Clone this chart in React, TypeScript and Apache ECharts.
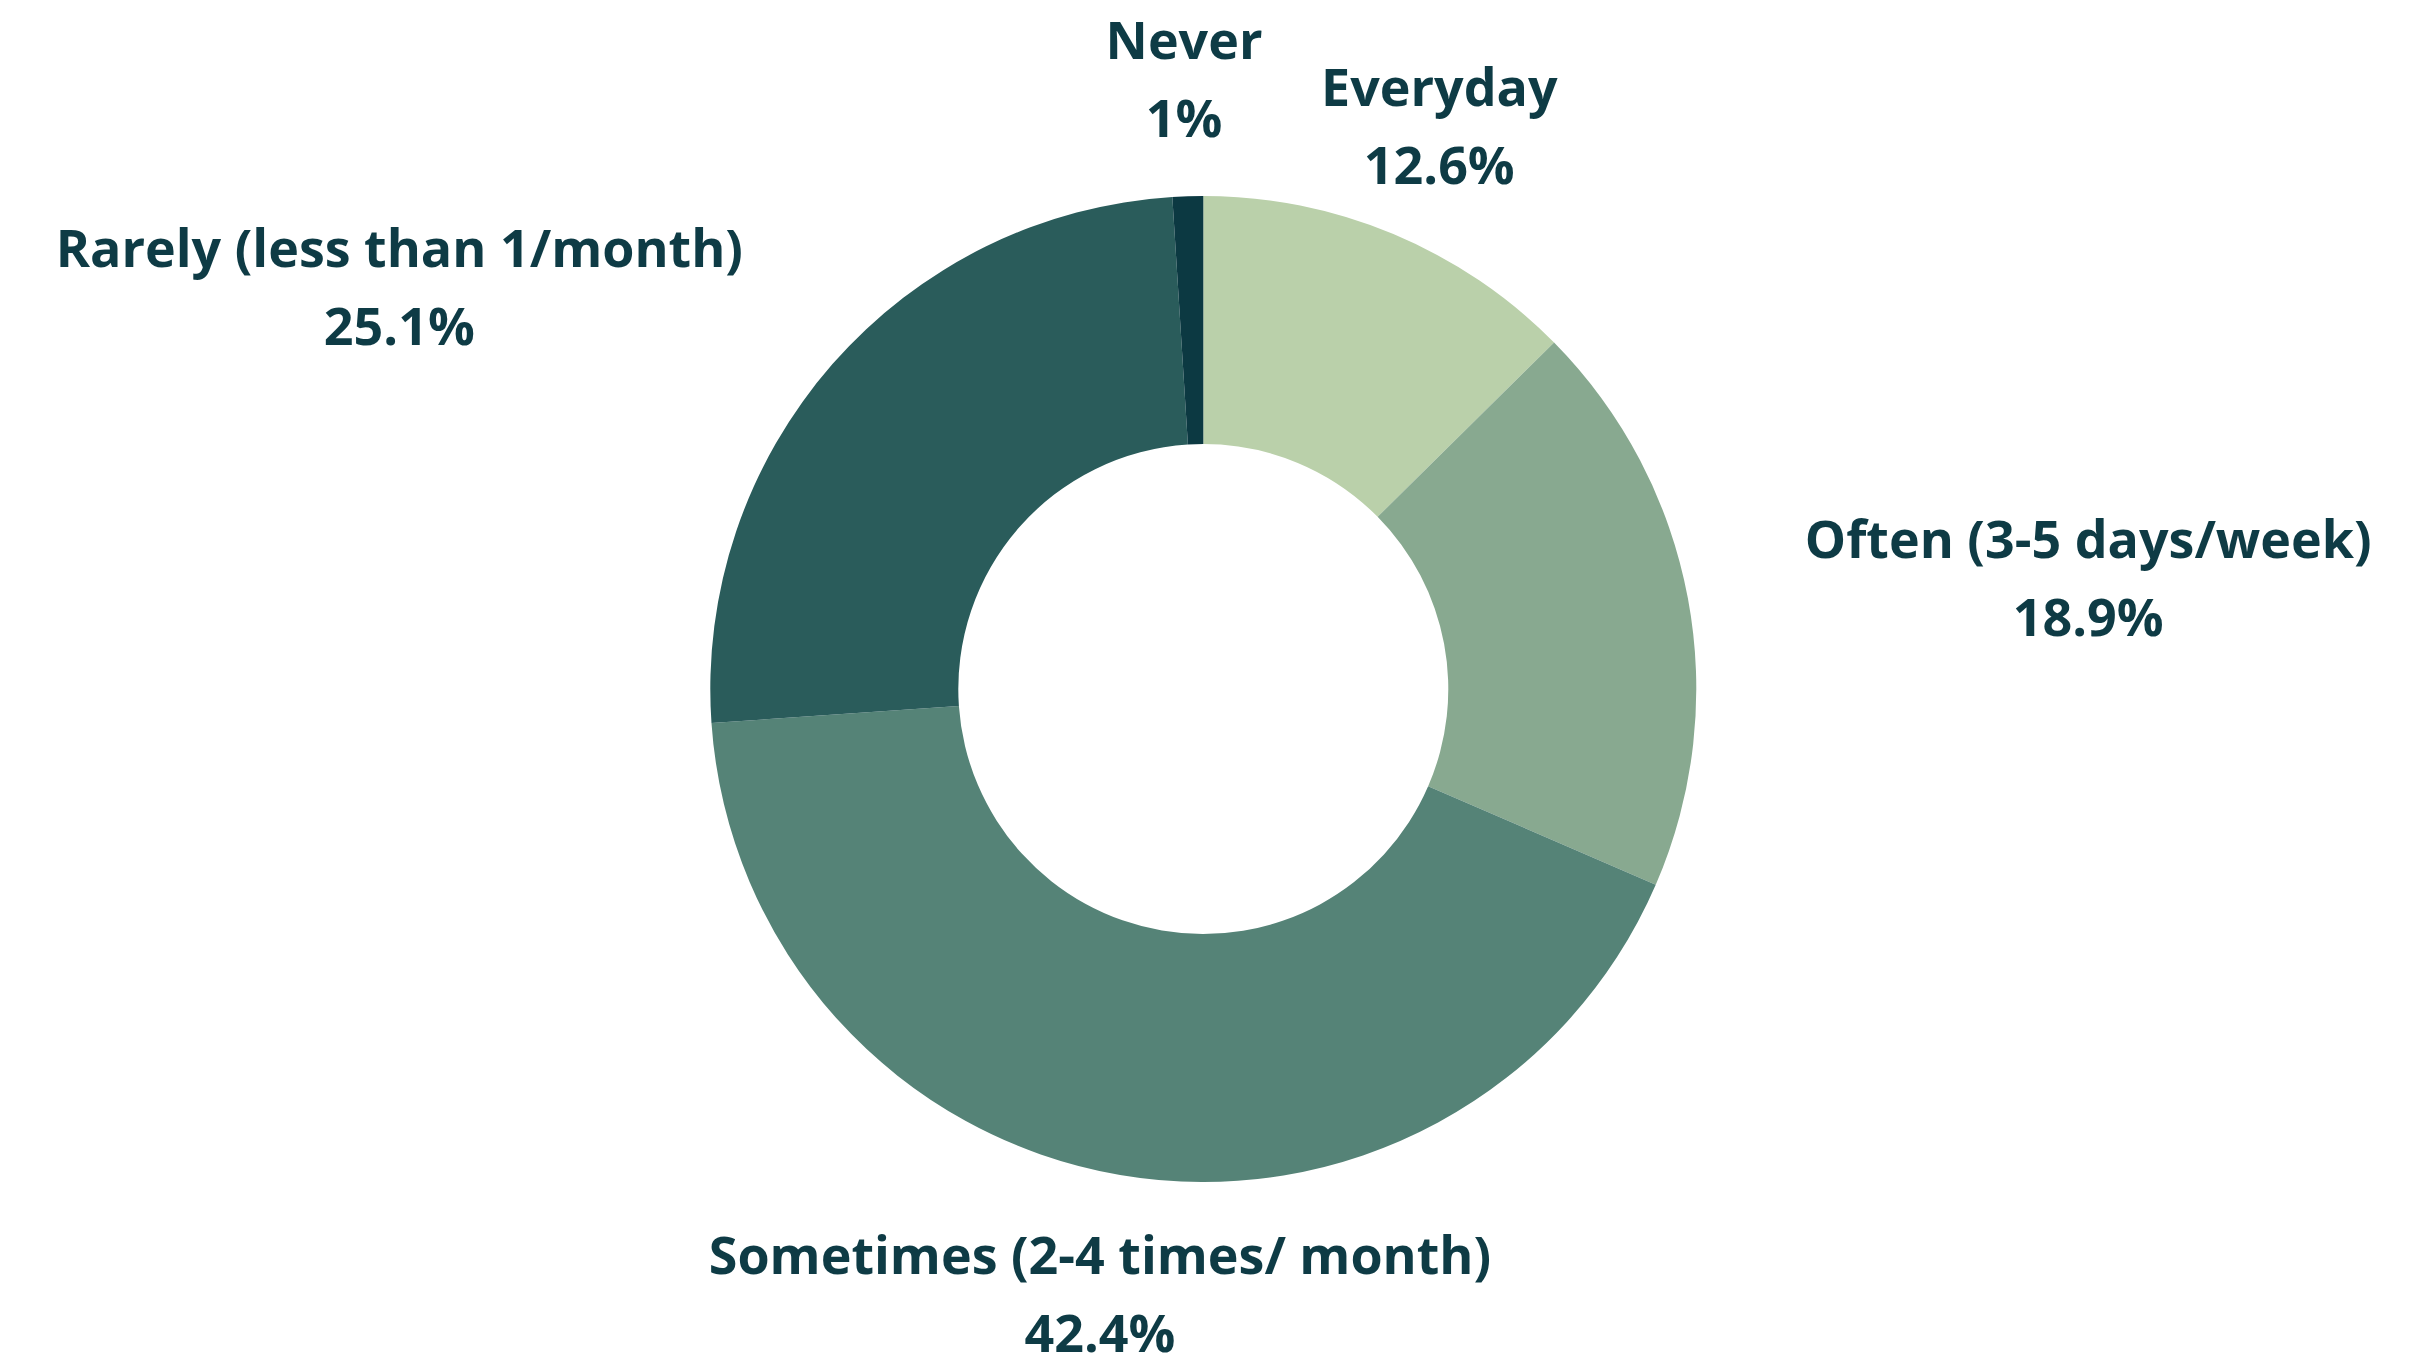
import React, { useEffect, useRef } from "react";
import * as echarts from "echarts";

const categories = [
  "Everyday",
  "Often (3-5 days/week)",
  "Sometimes (2-4 times/ month)",
  "Rarely (less than 1/month)",
  "Never",
];
const values = [12.6, 18.9, 42.4, 25.1, 1];
const colors = ["#BAD0AA", "#88A990", "#558377", "#2A5C5B", "#0C3942"];

const TEXT = "#0E3B45";
const CENTER = [0.496, 0.5066];
const R_IN = 245;
const R_OUT = 493;
const LABEL_DIST = 612;
const LABEL_LIFT = 0;
// line heights [first line, second line]: upper labels / lower labels
const LH_UP = [56, 100];
const LH_DOWN = [100, 56];

export default function App() {
  const ref = useRef<HTMLDivElement>(null);
  useEffect(() => {
    if (!ref.current) return;
    const chart = echarts.init(ref.current, undefined, { renderer: "svg" });
    const total = values.reduce((a, b) => a + b, 0);
    const mids: number[] = [];
    let acc = 0;
    values.forEach((v) => {
      mids.push(((acc + v / 2) / total) * Math.PI * 2);
      acc += v;
    });
    const isUp = (i: number) => Math.cos(mids[i]) > 0;
    const font = {
      color: TEXT,
      fontFamily: "Open Sans",
      fontWeight: "bold" as const,
      fontSize: 52,
    };
    chart.setOption({
      animation: false,
      backgroundColor: "#ffffff",
      series: [
        {
          type: "pie",
          center: [`${CENTER[0] * 100}%`, `${CENTER[1] * 100}%`],
          radius: [R_IN, R_OUT],
          startAngle: 90,
          clockwise: true,
          avoidLabelOverlap: false,
          itemStyle: { borderWidth: 0 },
          emphasis: { disabled: true },
          label: {
            show: true,
            position: "outside",
            ...font,
            align: "center",
            formatter: (p: any) =>
              isUp(p.dataIndex)
                ? `{u1|${p.name}}\n{u2|${p.value}%}`
                : `{d1|${p.name}}\n{d2|${p.value}%}`,
            rich: {
              u1: { ...font, lineHeight: LH_UP[0], align: "center" },
              u2: { ...font, lineHeight: LH_UP[1], align: "center" },
              d1: { ...font, lineHeight: LH_DOWN[0], align: "center" },
              d2: { ...font, lineHeight: LH_DOWN[1], align: "center" },
            },
          },
          labelLine: { show: false },
          labelLayout: (params: any) => {
            const i = params.dataIndex;
            const w = chart.getWidth();
            const h = chart.getHeight();
            const cx = w * CENTER[0];
            const cy = h * CENTER[1];
            const a = mids[i];
            const s = Math.sin(a);
            const c = Math.cos(a);
            const lh = isUp(i) ? LH_UP : LH_DOWN;
            let x = cx + LABEL_DIST * s;
            const y = cy - LABEL_DIST * c - (lh[0] - lh[1]) / 4 - LABEL_LIFT;
            const lw = params.labelRect ? params.labelRect.width : 0;
            if (Math.abs(s) > 0.5) x += (s > 0 ? 1 : -1) * lw / 2;
            return { x, y, align: "center", verticalAlign: "middle" };
          },
          data: categories.map((name, i) => ({
            name,
            value: values[i],
            itemStyle: { color: colors[i] },
          })),
        },
      ],
    });
    return () => chart.dispose();
  }, []);
  return (
    <div
      ref={ref}
      style={{ position: "fixed", left: 0, top: 0, width: 2426, height: 1360 }}
    />
  );
}
